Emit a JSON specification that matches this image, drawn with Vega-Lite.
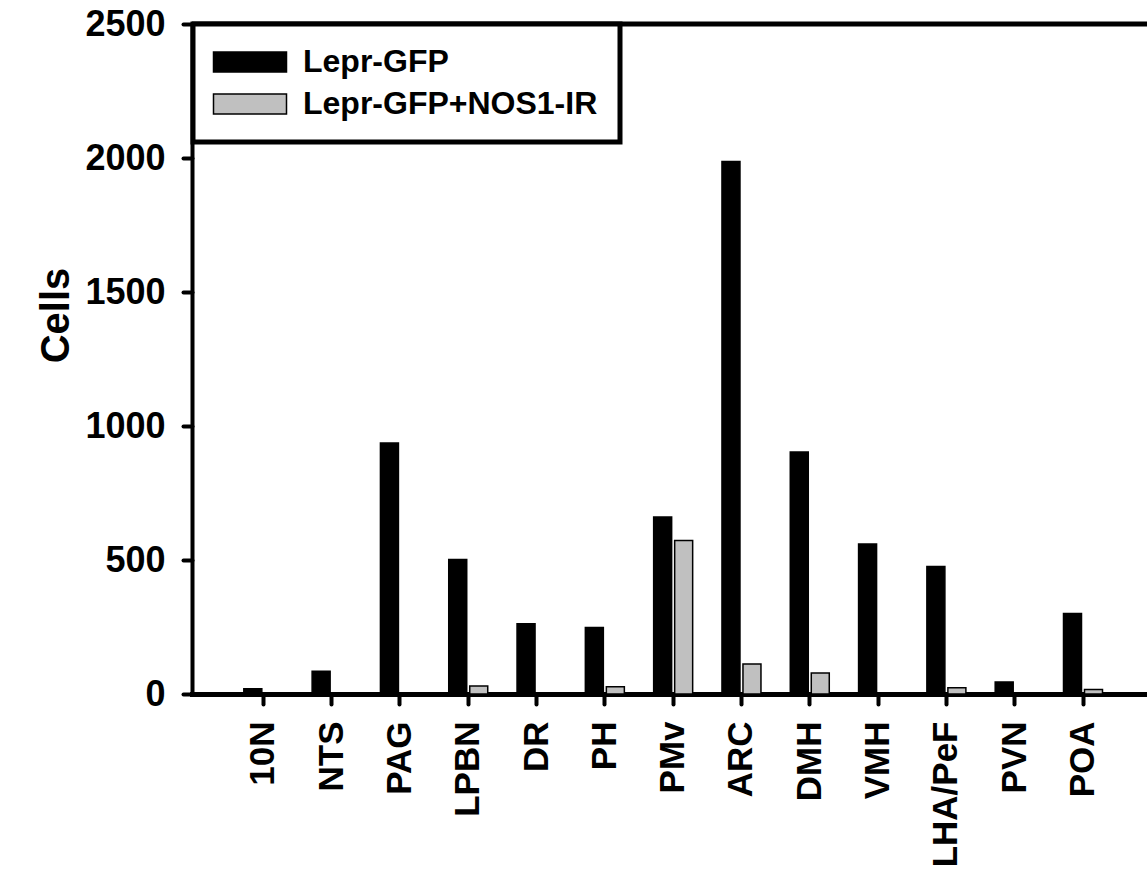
{
  "$schema": "https://vega.github.io/schema/vega-lite/v6.json",
  "autosize": {"type": "none"},
  "padding": {"left": 192, "top": 24, "right": 0, "bottom": 181},
  "width": 955,
  "height": 670,
  "config": {
    "font": "Liberation Sans",
    "view": {"stroke": null},
    "axis": {"zindex": 1}
  },
  "layer": [
    {
      "data": {
        "values": [
          {"region": "10N", "series": "Lepr-GFP", "cells": 20},
          {"region": "NTS", "series": "Lepr-GFP", "cells": 85},
          {"region": "PAG", "series": "Lepr-GFP", "cells": 937},
          {"region": "LPBN", "series": "Lepr-GFP", "cells": 502},
          {"region": "LPBN", "series": "Lepr-GFP+NOS1-IR", "cells": 30},
          {"region": "DR", "series": "Lepr-GFP", "cells": 262},
          {"region": "PH", "series": "Lepr-GFP", "cells": 248},
          {"region": "PH", "series": "Lepr-GFP+NOS1-IR", "cells": 27},
          {"region": "PMv", "series": "Lepr-GFP", "cells": 660},
          {"region": "PMv", "series": "Lepr-GFP+NOS1-IR", "cells": 573},
          {"region": "ARC", "series": "Lepr-GFP", "cells": 1987},
          {"region": "ARC", "series": "Lepr-GFP+NOS1-IR", "cells": 112},
          {"region": "DMH", "series": "Lepr-GFP", "cells": 903},
          {"region": "DMH", "series": "Lepr-GFP+NOS1-IR", "cells": 78},
          {"region": "VMH", "series": "Lepr-GFP", "cells": 560},
          {"region": "LHA/PeF", "series": "Lepr-GFP", "cells": 476},
          {"region": "LHA/PeF", "series": "Lepr-GFP+NOS1-IR", "cells": 23},
          {"region": "PVN", "series": "Lepr-GFP", "cells": 45},
          {"region": "POA", "series": "Lepr-GFP", "cells": 300},
          {"region": "POA", "series": "Lepr-GFP+NOS1-IR", "cells": 17}
        ]
      },
      "mark": {"type": "bar", "stroke": "black", "strokeWidth": 1.5},
      "encoding": {
        "x": {
          "field": "region",
          "type": "nominal",
          "sort": ["10N", "NTS", "PAG", "LPBN", "DR", "PH", "PMv", "ARC", "DMH", "VMH", "LHA/PeF", "PVN", "POA"],
          "scale": {"paddingInner": 0.429, "paddingOuter": 0.705, "align": 0.538},
          "axis": {
            "title": null,
            "labelAngle": -90,
            "labelAlign": "right",
            "labelBaseline": "middle",
            "labelFontSize": 35,
            "labelFontWeight": "bold",
            "labelColor": "black",
            "labelPadding": 17,
            "domainColor": "black",
            "domainWidth": 5,
            "domainCap": "square",
            "tickColor": "black",
            "tickSize": 10,
            "tickWidth": 4,
            "tickCap": "round"
          }
        },
        "xOffset": {
          "field": "series",
          "type": "nominal",
          "scale": {"domain": ["Lepr-GFP", "Lepr-GFP+NOS1-IR"], "paddingInner": 0.143, "paddingOuter": 0}
        },
        "y": {
          "field": "cells",
          "type": "quantitative",
          "scale": {"domain": [0, 2500], "nice": false},
          "axis": {
            "title": "Cells",
            "titleFontSize": 40,
            "titleFontWeight": "bold",
            "titleColor": "black",
            "titleX": -136,
            "titleY": 291,
            "titleBaseline": "middle",
            "titleAlign": "center",
            "titleAngle": -90,
            "values": [0, 500, 1000, 1500, 2000, 2500],
            "format": "d",
            "grid": false,
            "labelFontSize": 36,
            "labelFontWeight": "bold",
            "labelColor": "black",
            "labelPadding": 18,
            "domainColor": "black",
            "domainWidth": 4,
            "tickColor": "black",
            "tickSize": 9,
            "tickWidth": 4,
            "tickCap": "round"
          }
        },
        "color": {
          "field": "series",
          "type": "nominal",
          "scale": {"domain": ["Lepr-GFP", "Lepr-GFP+NOS1-IR"], "range": ["#000000", "#c0c0c0"]},
          "legend": {
            "title": null,
            "orient": "none",
            "legendX": 1,
            "legendY": 0,
            "padding": 22,
            "rowPadding": 10,
            "strokeColor": "black",
            "fillColor": "white",
            "symbolType": "M-3.65,-1L3.65,-1L3.65,1L-3.65,1Z",
            "symbolSize": 400,
            "symbolOffset": 19,
            "symbolStrokeColor": "black",
            "symbolStrokeWidth": 1.5,
            "symbolOpacity": 1,
            "labelFontSize": 32,
            "labelFontWeight": "bold",
            "labelColor": "black",
            "labelOffset": 37,
            "labelLimit": 400,
            "encode": {"legend": {"update": {"strokeWidth": {"value": 5}}}}
          }
        }
      }
    },
    {
      "data": {"values": [{"edge": 2500}]},
      "mark": {"type": "rule", "color": "black", "strokeWidth": 5},
      "encoding": {"y": {"field": "edge", "type": "quantitative"}}
    }
  ]
}
